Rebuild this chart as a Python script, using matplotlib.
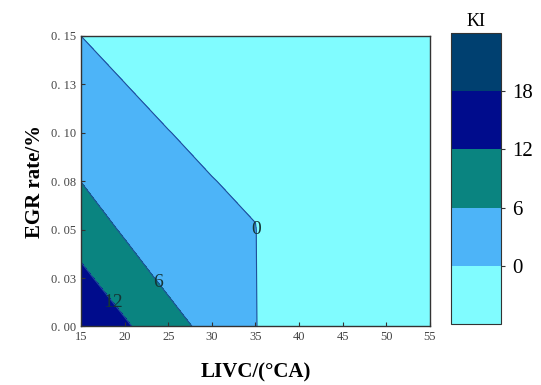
import numpy as np
import matplotlib
matplotlib.use("Agg")
import matplotlib.pyplot as plt
from matplotlib.colors import ListedColormap

plt.rcParams['font.family'] = ['Liberation Serif', 'DejaVu Serif']

# grid: LIVC (deg CA) x EGR rate
livc = [15, 20, 25, 30, 35, 40, 45, 50, 55]
egr = [0.0, 0.025, 0.05, 0.075, 0.10, 0.125, 0.15]

# KI at each node, one list per LIVC column (bottom -> top)
ki_15 = [16.83, 13.19, 9.55, 5.95, 3.97, 1.98, 0.0]
ki_20 = [12.72, 9.0, 5.287, 3.3, 1.6, 0.03, -0.8]
ki_25 = [8.42, 4.63, 3.0, 1.5, 0.06, -0.8, -1.8]
ki_30 = [4.0, 2.8, 1.5, 0.08, -0.7, -1.6, -2.5]
ki_35 = [0.2, 0.15, 0.1, -0.6, -1.5, -2.4, -3.3]
ki_40 = [-5.5, -5.5, -5.5, -5.5, -5.5, -5.5, -5.5]
ki_45 = [-5.5, -5.5, -5.5, -5.5, -5.5, -5.5, -5.5]
ki_50 = [-5.5, -5.5, -5.5, -5.5, -5.5, -5.5, -5.5]
ki_55 = [-5.5, -5.5, -5.5, -5.5, -5.5, -5.5, -5.5]

levels = [-6, 0, 6, 12, 18, 24]
line_levels = [0, 6, 12]
cbar_ticks = [0, 6, 12, 18]
band_colors = ['#80FCFF', '#4DB4F8', '#0A8480', '#000C8C', '#004070']

yticks = [0.0, 0.025, 0.05, 0.075, 0.10, 0.125, 0.15]
ytick_labels = ['0. 00', '0. 03', '0. 05', '0. 08', '0. 10', '0. 13', '0. 15']
xticks = [15, 20, 25, 30, 35, 40, 45, 50, 55]

Z = np.array([ki_15, ki_20, ki_25, ki_30, ki_35, ki_40, ki_45, ki_50, ki_55]).T
X, Y = np.meshgrid(livc, egr)

fig = plt.figure(figsize=(5.41, 3.85), dpi=100)
ax = fig.add_axes([0.1497, 0.152, 0.645, 0.7545])
cax = fig.add_axes([0.8336, 0.1584, 0.0924, 0.7558])

cmap = ListedColormap(band_colors)
cs = ax.contourf(X, Y, Z, levels=levels, cmap=cmap)
cl = ax.contour(X, Y, Z, levels=line_levels, colors='#1f4f9a', linewidths=0.8)
labels = ax.clabel(cl, fmt='%d', fontsize=14, colors='#153535', inline=False,
                   manual=[(35, 0.05), (23.75, 0.0225), (18.7, 0.0127)])
for t in labels:
    t.set_rotation(0)

ax.set_xlim(15, 55)
ax.set_ylim(0, 0.15)
ax.set_xticks(xticks)
ax.set_yticks(yticks)
ax.set_yticklabels(ytick_labels)
ax.tick_params(direction='in', length=3, width=0.8, labelsize=9,
               labelcolor='#444444', color='#333333')
for sp in ax.spines.values():
    sp.set_color('#333333')
    sp.set_linewidth(1.0)

ax.set_xlabel('LIVC/(°CA)', fontsize=15, fontweight='bold', labelpad=14)
ax.set_ylabel('EGR rate/%', fontsize=15, fontweight='bold', labelpad=4)

cb = fig.colorbar(cs, cax=cax, ticks=cbar_ticks)
cb.ax.tick_params(labelsize=15, length=3, width=0.8, color='#333333', pad=5)
cb.outline.set_edgecolor('#333333')
cb.ax.set_title('KI', fontsize=13, pad=5)

fig.savefig('out.png', dpi=100)
